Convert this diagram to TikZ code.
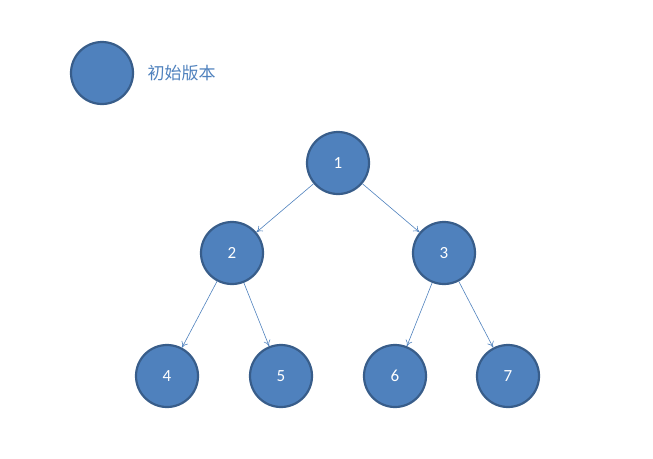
\documentclass[tikz,border=0pt]{standalone}
\usepackage{fontspec}
\setmainfont{Carlito}
\newfontfamily\cjk{Noto Sans CJK SC}
\usetikzlibrary{arrows.meta}
\definecolor{nfill}{RGB}{79,129,189}
\definecolor{nline}{RGB}{56,93,138}
\begin{document}
\begin{tikzpicture}[x=1pt,y=-1pt,
  vnode/.style={circle,fill=nfill,draw=nline,line width=2.2pt,minimum size=62pt,inner sep=0pt,text=white,font=\fontsize{17}{17}\selectfont},
  edge/.style={draw=nfill,line width=0.6pt,-{To[length=6pt,width=7pt]}}]
\useasboundingbox (0,0) rectangle (653,458);
\node[vnode] (leg) at (102,73) {};
\node[anchor=west,text=nfill,font=\cjk\fontsize{17}{17}\selectfont] (legt) at (144,73) {初始版本};
\node[vnode] (n1) at (338,163) {1};
\node[vnode] (n2) at (232,253) {2};
\node[vnode] (n3) at (444,253) {3};
\node[vnode] (n4) at (167,376) {4};
\node[vnode] (n5) at (281,376) {5};
\node[vnode] (n6) at (395,376) {6};
\node[vnode] (n7) at (508,376) {7};
\draw[edge] (n1) -- (n2);
\draw[edge] (n1) -- (n3);
\draw[edge] (n2) -- (n4);
\draw[edge] (n2) -- (n5);
\draw[edge] (n3) -- (n6);
\draw[edge] (n3) -- (n7);
\end{tikzpicture}
\end{document}
